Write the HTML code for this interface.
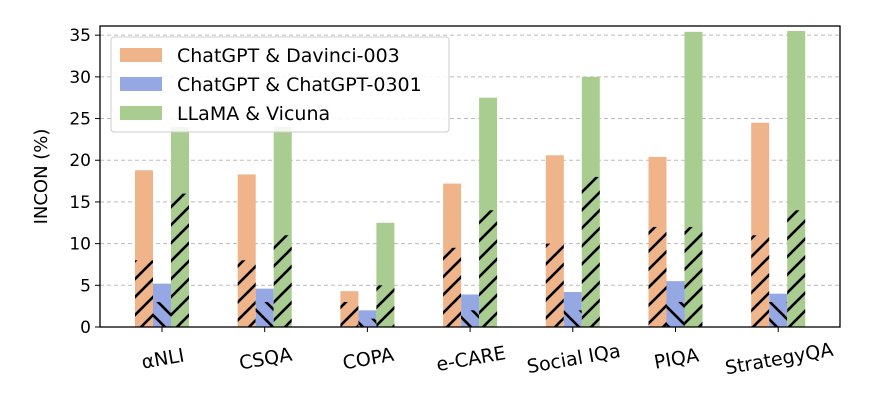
<!DOCTYPE html>
<html><head><meta charset="utf-8"><style>
body{margin:0;background:#fff;}
svg text{font-family:"DejaVu Sans","Liberation Sans",sans-serif;}
</style></head><body>
<svg id="chart" width="875" height="405">
<defs>
<pattern id="hf" patternUnits="userSpaceOnUse" width="18" height="18">
<path d="M-3,21 L21,-3 M-3,3 L3,-3 M15,21 L21,15" stroke="#000" stroke-width="2.6"/>
</pattern>
<pattern id="hb" patternUnits="userSpaceOnUse" width="18" height="18">
<path d="M-3,-3 L21,21 M15,-3 L21,3 M-3,15 L3,21" stroke="#000" stroke-width="2.6"/>
</pattern>
</defs>
<g id="grid"></g><g id="bars"></g><g id="axes"></g>
</svg>
<script>
const categories=["αNLI","CSQA","COPA","e-CARE","Social IQa","PIQA","StrategyQA"];
const davinci=[18.8,18.3,4.3,17.2,20.6,20.4,24.5];
const chatgpt0301=[5.2,4.6,2.0,3.9,4.2,5.5,4.0];
const vicuna=[24.0,24.0,12.5,27.5,30.0,35.4,35.5];
const davinciHatch=[8,8,3,9.5,10,12,11];
const chatgptHatch=[3,3,1,2,2,3,3];
const vicunaHatch=[16,11,5,14,18,12,14];
const yTicks=[0,5,10,15,20,25,30,35];
const L=100,R=840,T=26,B=327,YMAX=36.1;
const ns="http://www.w3.org/2000/svg";
function y(v){return B-(v/YMAX)*(B-T);}
function x(i){return 162+i*102.7;}
function el(tag,attrs,parent,txt){const e=document.createElementNS(ns,tag);for(const k in attrs)e.setAttribute(k,attrs[k]);if(txt!==undefined)e.textContent=txt;parent.appendChild(e);return e;}
const grid=document.getElementById('grid'),bars=document.getElementById('bars'),axes=document.getElementById('axes');
yTicks.forEach(t=>{
 const g=el('line',{x1:L,x2:R,y1:y(t),y2:y(t),stroke:'#bbb','stroke-dasharray':'4,3','stroke-width':1},grid);
 
 
 const tk=el('line',{x1:L-5,x2:L,y1:y(t),y2:y(t),stroke:'#000'},axes);
 
 
 const lb=el('text',{x:L-9,y:y(t)+6,'text-anchor':'end','font-size':17,fill:'#000'},axes,String(t));
 
 
});
const series=[[davinci,davinciHatch,'#f0b48a','hf',-27],[chatgpt0301,chatgptHatch,'#96a8e4','hb',-9],[vicuna,vicunaHatch,'#a9cd90','hf',9]];
const W=18;
categories.forEach((c,i)=>{
 series.forEach((s,k)=>{
  const bx=x(i)+s[4];
  const r=el('rect',{x:bx,y:y(s[0][i]),width:W,height:B-y(s[0][i]),fill:s[2]},bars);
  
  
  const h=el('rect',{x:bx,y:y(s[1][i]),width:W,height:B-y(s[1][i]),fill:'url(#'+s[3]+')'},bars);
  
  
 });
 const tk=el('line',{x1:x(i),x2:x(i),y1:B,y2:B+5,stroke:'#000'},axes);
 
 
 const lb=el('text',{x:x(i)+2,y:B+38,'text-anchor':'middle','font-size':19,fill:'#000',transform:`rotate(-10 ${x(i)+2} ${B+38})`},axes,c);
 
 
});
const fr=el('rect',{x:L,y:T,width:R-L,height:B-T,fill:'none',stroke:'#000','stroke-width':1.3},axes);


const yt=el('text',{x:47,y:(T+B)/2,'text-anchor':'middle','font-size':18,transform:`rotate(-90 47 ${(T+B)/2})`},axes,'INCON (%)');


const lg=el('g',{},axes);


el('rect',{x:111,y:37,width:338,height:95,fill:'#fff','fill-opacity':0.85,stroke:'#ccc',rx:3},lg);
const names=['ChatGPT & Davinci-003','ChatGPT & ChatGPT-0301','LLaMA & Vicuna'];
names.forEach((n,k)=>{
 const yy=46+k*29;
 const sw=el('rect',{x:120,y:yy+2,width:42,height:14,fill:series[k][2]},lg);
 
 
 const t=el('text',{x:177,y:yy+16,'font-size':19},lg,n);
 
 
});
</script>
</body></html>
